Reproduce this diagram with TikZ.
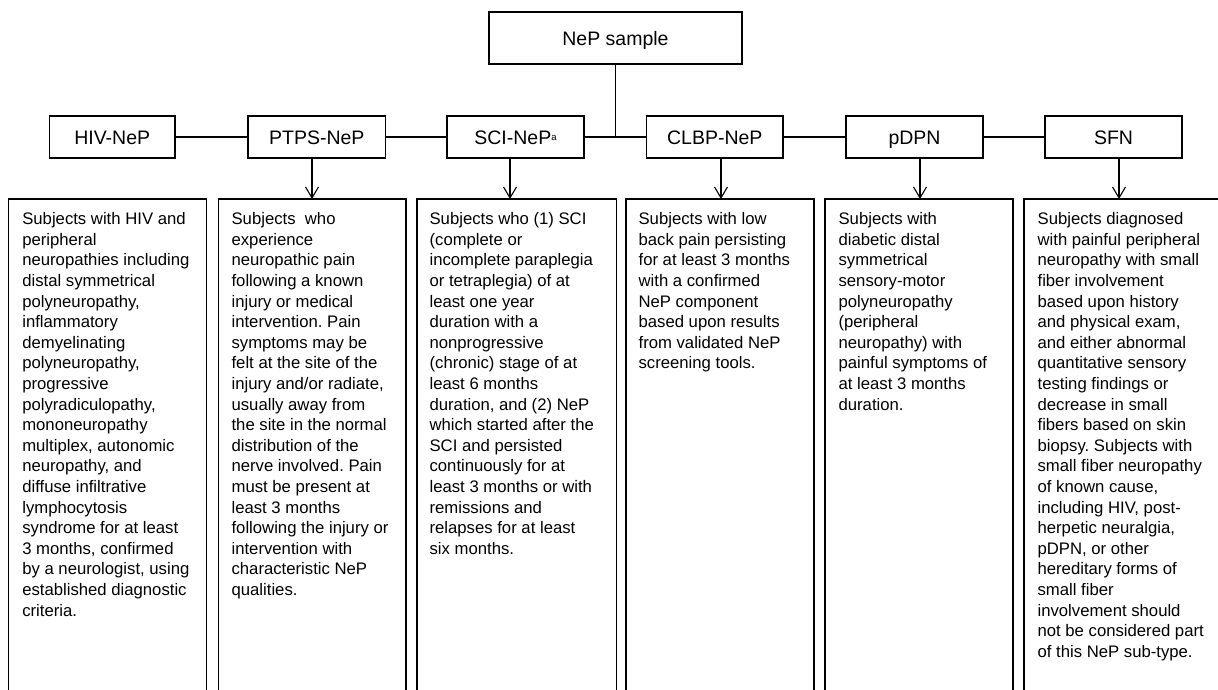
\documentclass[tikz,border=0pt]{standalone}
\usepackage{fontspec}
\setmainfont{Liberation Sans}
\usetikzlibrary{arrows.meta}
\newcommand{\supa}{\raisebox{4pt}{\fontsize{9.5}{10}\selectfont a}}
\begin{document}
\frenchspacing
\begin{tikzpicture}[x=1pt,y=-1pt, line width=1.2pt,
  lab/.style={draw, inner sep=0pt, outer sep=0pt, minimum height=42pt, text height=14pt, text depth=0pt, font=\fontsize{19.5}{23}\selectfont},
  openbox/.style={draw, inner sep=0pt, outer sep=0pt, anchor=north west, minimum height=540pt},
  body/.style={anchor=north west, inner sep=0pt, align=left, font=\fontsize{16.7}{20.6}\selectfont},
  arr/.style={line width=1.1pt, -{Straight Barb[length=11pt,width=13pt,line width=1.1pt]}}]
\useasboundingbox (0,0) rectangle (1218,689);
\clip (0,0) rectangle (1218,689);

% top node
\node[lab, minimum width=253pt, minimum height=52pt] (nep) at (615.5,38) {NeP sample};

% second row
\node[lab, minimum width=125.6pt] (hiv)  at (112.2,137) {HIV-NeP};
\node[lab, minimum width=137.5pt] (ptps) at (316.8,137) {PTPS-NeP};
\node[lab, minimum width=137pt]   (sci)  at (515.5,137) {SCI-NeP\supa};
\node[lab, minimum width=136.5pt] (clbp) at (714.8,137) {CLBP-NeP};
\node[lab, minimum width=137pt]   (pdpn) at (914.5,137) {pDPN};
\node[lab, minimum width=137pt]   (sfn)  at (1113.5,137) {SFN};

% connectors
\draw (hiv.east) -- (ptps.west);
\draw (ptps.east) -- (sci.west);
\draw (sci.east) -- (clbp.west);
\draw (clbp.east) -- (pdpn.west);
\draw (pdpn.east) -- (sfn.west);
\draw (nep.south) -- (nep.south |- sci.east);

% description boxes (open at bottom, clipped)
\node[openbox, minimum width=198pt]   (b1) at (8.7,199) {};
\node[openbox, minimum width=187.3pt] (b2) at (218.7,199) {};
\node[openbox, minimum width=199.5pt] (b3) at (417,199) {};
\node[openbox, minimum width=188pt]   (b4) at (626,199) {};
\node[openbox, minimum width=188pt]   (b5) at (825,199) {};
\node[openbox, minimum width=240pt]   (b6) at (1024,199) {};

% arrows
\draw[arr] ([xshift=-4.8pt]ptps.south) -- ([xshift=-4.8pt]ptps.south |- b2.north);
\draw[arr] ([xshift=-5.5pt]sci.south) -- ([xshift=-5.5pt]sci.south |- b3.north);
\draw[arr] ([xshift=6.2pt]clbp.south) -- ([xshift=6.2pt]clbp.south |- b4.north);
\draw[arr] ([xshift=5.5pt]pdpn.south) -- ([xshift=5.5pt]pdpn.south |- b5.north);
\draw[arr] ([xshift=5.5pt]sfn.south) -- ([xshift=5.5pt]sfn.south |- b6.north);

% texts
\node[body] (t1) at (21.7,210) {\rule{0pt}{14pt}Subjects with HIV and\\ peripheral\\ neuropathies including\\ distal symmetrical\\ polyneuropathy,\\ inflammatory\\ demyelinating\\ polyneuropathy,\\ progressive\\ polyradiculopathy,\\ mononeuropathy\\ multiplex, autonomic\\ neuropathy, and\\ diffuse infiltrative\\ lymphocytosis\\ syndrome for at least\\ 3 months, confirmed\\ by a neurologist, using\\ established diagnostic\\ criteria.};
\node[body] (t2) at (231,210) {\rule{0pt}{14pt}Subjects\ \ who\\ experience\\ neuropathic pain\\ following a known\\ injury or medical\\ intervention. Pain\\ symptoms may be\\ felt at the site of the\\ injury and/or radiate,\\ usually away from\\ the site in the normal\\ distribution of the\\ nerve involved. Pain\\ must be present at\\ least 3 months\\ following the injury or\\ intervention with\\ characteristic NeP\\ qualities.};
\node[body] (t3) at (429,210) {\rule{0pt}{14pt}Subjects who (1) SCI\\ (complete or\\ incomplete paraplegia\\ or tetraplegia) of at\\ least one year\\ duration with a\\ nonprogressive\\ (chronic) stage of at\\ least 6 months\\ duration, and (2) NeP\\ which started after the\\ SCI and persisted\\ continuously for at\\ least 3 months or with\\ remissions and\\ relapses for at least\\ six months.};
\node[body] (t4) at (638,210) {\rule{0pt}{14pt}Subjects with low\\ back pain persisting\\ for at least 3 months\\ with a confirmed\\ NeP component\\ based upon results\\ from validated NeP\\ screening tools.};
\node[body] (t5) at (838,210) {\rule{0pt}{14pt}Subjects with\\ diabetic distal\\ symmetrical\\ sensory-motor\\ polyneuropathy\\ (peripheral\\ neuropathy) with\\ painful symptoms of\\ at least 3 months\\ duration.};
\node[body] (t6) at (1037,210) {\rule{0pt}{14pt}Subjects diagnosed\\ with painful peripheral\\ neuropathy with small\\ fiber involvement\\ based upon history\\ and physical exam,\\ and either abnormal\\ quantitative sensory\\ testing findings or\\ decrease in small\\ fibers based on skin\\ biopsy. Subjects with\\ small fiber neuropathy\\ of known cause,\\ including HIV, post-\\ herpetic neuralgia,\\ pDPN, or other\\ hereditary forms of\\ small fiber\\ involvement should\\ not be considered part\\ of this NeP sub-type.};
\end{tikzpicture}
\end{document}
